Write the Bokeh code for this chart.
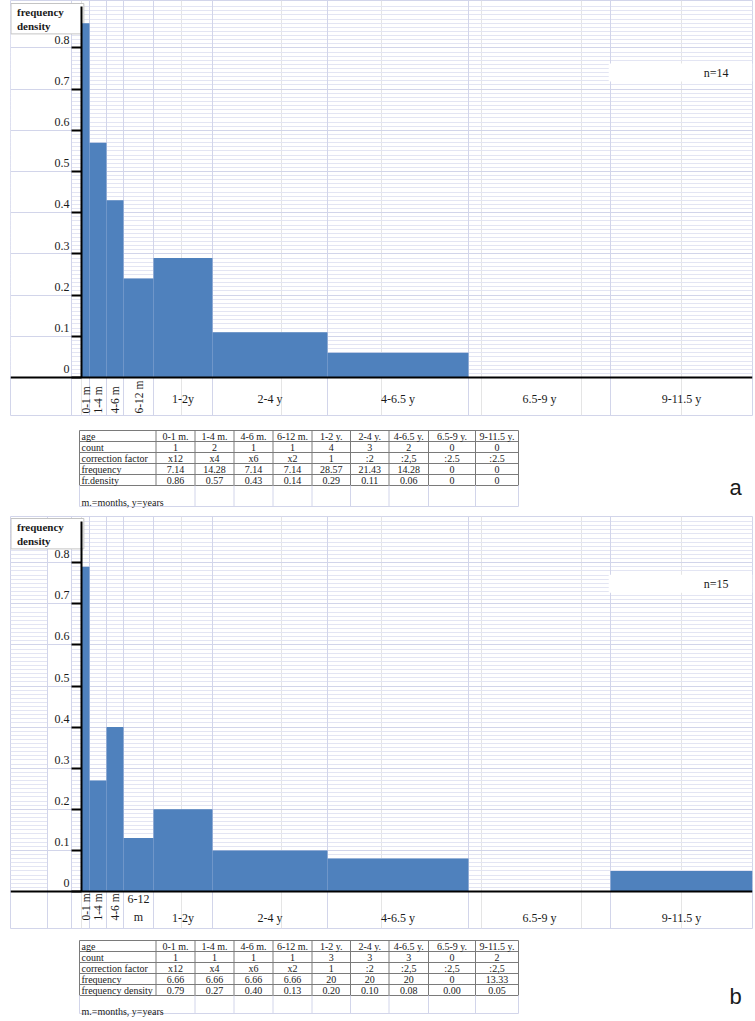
import numpy as np
from bokeh.plotting import figure
from bokeh.models import Range1d, FixedTicker, Grid, Span, Label, BoxAnnotation
from bokeh.layouts import column
from bokeh.embed import file_html
from bokeh.resources import INLINE
from bokeh.core.properties import value

# ---------------- data ----------------
age_groups = ["0-1 m.", "1-4 m.", "4-6 m.", "6-12 m.", "1-2 y.", "2-4 y.",
              "4-6.5 y.", "6.5-9 y.", "9-11.5 y."]
axis_labels_a = ["0-1 m", "1-4 m", "4-6 m", "6-12 m", "1-2y", "2-4 y",
                 "4-6.5 y", "6.5-9 y", "9-11.5 y"]
axis_labels_b = ["0-1 m", "1-4 m", "4-6 m", "6-12\nm", "1-2y", "2-4 y",
                 "4-6.5 y", "6.5-9 y", "9-11.5 y"]
density_a = [0.86, 0.57, 0.43, 0.24, 0.29, 0.11, 0.06, 0.0, 0.0]
density_b = [0.79, 0.27, 0.40, 0.13, 0.20, 0.10, 0.08, 0.0, 0.05]
y_ticks = [0, 0.1, 0.2, 0.3, 0.4, 0.5, 0.6, 0.7, 0.8]
y_tick_labels = ["0", "0.1", "0.2", "0.3", "0.4", "0.5", "0.6", "0.7", "0.8"]
n_text_a = "n=14"
n_text_b = "n=15"
y_title = "frequency\ndensity"

row_labels_a = ["age", "count", "correction factor", "frequency", "fr.density"]
count_a = ["1", "2", "1", "1", "4", "3", "2", "0", "0"]
correction_a = ["x12", "x4", "x6", "x2", "1", ":2", ":2,5", ":2.5", ":2.5"]
frequency_a = ["7.14", "14.28", "7.14", "7.14", "28.57", "21.43", "14.28", "0", "0"]
frdensity_a = ["0.86", "0.57", "0.43", "0.14", "0.29", "0.11", "0.06", "0", "0"]

row_labels_b = ["age", "count", "correction factor", "frequency", "frequency density"]
count_b = ["1", "1", "1", "1", "3", "3", "3", "0", "2"]
correction_b = ["x12", "x4", "x6", "x2", "1", ":2", ":2,5", ":2,5", ":2,5"]
frequency_b = ["6.66", "6.66", "6.66", "6.66", "20", "20", "20", "0", "13.33"]
frdensity_b = ["0.79", "0.27", "0.40", "0.13", "0.20", "0.10", "0.08", "0.00", "0.05"]

footnote = "m.=months, y=years"

# ---------------- layout constants ----------------
bin_widths = [8, 17, 17, 30, 59, 115, 141, 142, 142]     # spreadsheet column widths (px)
edges = np.concatenate([[0], np.cumsum(bin_widths)]).astype(float)
centers = (edges[:-1] + edges[1:]) / 2
table_cols = [79, 155.5, 194.5, 233.5, 272.5, 311.5, 350, 388.5, 428, 475, 518]

W = 755
FRAME_L = 10          # page x of the frame's left edge
FRAME_R = 752         # page x of the frame's right edge
AXIS_X = 81           # page x of the y axis

BAR = "#4f81bd"
GRID_MAJOR = "#d2d5ea"
GRID_MINOR = "#e3e5f3"
SERIF = "Liberation Serif"
TXT = "#1a1a1a"


def make_chart(vals, labels, n_rot, n_text, border_top, H, zero_from_top, ppu,
               rot_below, h_below, h_baseline, ny, fd_box_top_from_zero, sheet_cols):
    y1 = zero_from_top / ppu
    y0 = -(H - zero_from_top) / ppu
    p = figure(width=W, height=border_top + H + 5,
               x_range=Range1d(FRAME_L - AXIS_X, FRAME_R - AXIS_X), y_range=Range1d(y0, y1),
               x_axis_location=None, output_backend="svg", toolbar_location=None,
               min_border_left=FRAME_L, min_border_right=W - FRAME_R,
               min_border_top=border_top, min_border_bottom=5)
    p.outline_line_color = GRID_MAJOR
    p.background_fill_color = "white"
    p.border_fill_color = "white"

    minor = [round(v, 3) for v in np.arange(0, 0.9001, 0.01)]
    ticker = FixedTicker(ticks=y_ticks, minor_ticks=minor)
    ax = p.yaxis[0]
    ax.ticker = ticker
    ax.fixed_location = 0
    ax.bounds = (0, 0.9)
    ax.axis_line_color = "black"
    ax.axis_line_width = 2
    ax.major_tick_in = 0
    ax.major_tick_out = 10
    ax.major_tick_line_color = "black"
    ax.major_tick_line_width = 2
    ax.minor_tick_line_color = None
    ax.major_label_standoff = 2
    ax.major_label_text_font = SERIF
    ax.major_label_text_font_size = "12px"
    ax.major_label_text_color = TXT
    ax.major_label_overrides = {t: lab + "\n" for t, lab in zip(y_ticks, y_tick_labels)}

    g = p.ygrid[0]
    g.ticker = ticker
    g.bounds = (0, 0.9)
    g.grid_line_color = GRID_MAJOR
    g.minor_grid_line_color = GRID_MINOR

    # blank spreadsheet cells left of the axis, then the 0.1 lines again on top
    p.add_layout(BoxAnnotation(left=sheet_cols[0] - AXIS_X, right=71 - AXIS_X,
                               bottom=0, top=0.9, fill_color="white", fill_alpha=1,
                               line_color=None, level="underlay"))
    p.add_layout(Grid(dimension=1, ticker=FixedTicker(ticks=y_ticks), bounds=(0, 0.9),
                      grid_line_color=GRID_MAJOR))
    p.add_layout(Grid(dimension=0,
                      ticker=FixedTicker(ticks=[c - AXIS_X for c in sheet_cols[1:]] + list(edges[1:-1])),
                      grid_line_color=GRID_MAJOR))

    # y title box (anchor is the box's top-left corner); drawn under bars and axis
    p.add_layout(Label(x=10.5 - AXIS_X, y=fd_box_top_from_zero / ppu, text=y_title,
                       text_align="left", text_baseline="top", level="underlay",
                       text_font=SERIF, text_font_size="11px", text_font_style="bold",
                       text_color=TXT, border_line_color="#c4c4c4",
                       background_fill_color="white",
                       padding=dict(left=6, right=20, top=2, bottom=2)))

    p.quad(left=edges[:-1], right=edges[1:], bottom=0, top=vals,
           fill_color=BAR, line_color=None)

    p.add_layout(Span(location=0, dimension="width", line_color="black", line_width=2))

    # category labels in the row below the axis
    p.text(x=centers[:n_rot], y=[-rot_below / ppu] * n_rot, text=labels[:n_rot],
           angle=np.pi / 2, text_align="left", text_baseline="middle",
           text_font=value(SERIF), text_font_size="11.5px", text_color=TXT)
    rest = len(labels) - n_rot
    p.text(x=centers[n_rot:], y=[-h_below / ppu] * rest, text=labels[n_rot:],
           text_align="center", text_baseline=h_baseline, text_line_height=1.3,
           text_font=value(SERIF), text_font_size="12px", text_color=TXT)

    # n= box (anchor is the box's right edge)
    p.add_layout(Label(x=edges[-1], y=ny, text=n_text,
                       text_align="right", text_baseline="middle", level="underlay",
                       text_font=SERIF, text_font_size="12px", text_color=TXT,
                       background_fill_color="white",
                       padding=dict(left=95, right=24, top=2, bottom=2)))
    return p


def make_table(row_labels, rows, fig_h, top, foot_h, foot_text_y, letter, letter_y):
    t = figure(width=W, height=fig_h, x_range=Range1d(FRAME_L, FRAME_R),
               y_range=Range1d(fig_h, 0),
               x_axis_location=None, y_axis_location=None, output_backend="svg",
               toolbar_location=None, min_border=0, min_border_left=FRAME_L,
               min_border_right=W - FRAME_R, min_border_top=0, min_border_bottom=0)
    t.outline_line_color = None
    t.background_fill_color = "white"
    t.border_fill_color = "white"
    t.xgrid.visible = False
    t.ygrid.visible = False
    rh = 11
    nrow = len(rows)
    bottom = top + rh * nrow
    hy = [top + rh * k for k in range(nrow + 1)]
    t.segment(x0=[table_cols[0]] * len(hy), x1=[table_cols[-1]] * len(hy), y0=hy, y1=hy,
              line_color="#7a7a7a", line_width=1)
    t.segment(x0=table_cols, x1=table_cols, y0=[top] * len(table_cols),
              y1=[bottom] * len(table_cols), line_color="#7a7a7a", line_width=1)
    fb = bottom + foot_h
    fxs = [table_cols[0]] + table_cols[2:]
    t.segment(x0=fxs, x1=fxs, y0=[bottom] * len(fxs), y1=[fb] * len(fxs),
              line_color=GRID_MAJOR, line_width=1)
    t.segment(x0=[table_cols[0]], x1=[table_cols[-1]], y0=[fb], y1=[fb],
              line_color=GRID_MAJOR, line_width=1)
    ccx = [(a + b) / 2 for a, b in zip(table_cols[1:-1], table_cols[2:])]
    xs, ys, txt = [], [], []
    for k, row in enumerate(rows):
        for j, v in enumerate(row):
            xs.append(ccx[j]); ys.append(top + rh * k + rh / 2 + 0.5); txt.append(v)
    t.text(x=xs, y=ys, text=txt, text_align="center", text_baseline="middle",
           text_font=value(SERIF), text_font_size="10px", text_color=TXT)
    t.text(x=[table_cols[0] + 2] * nrow, y=[top + rh * k + rh / 2 + 0.5 for k in range(nrow)],
           text=row_labels, text_align="left", text_baseline="middle",
           text_font=value(SERIF), text_font_size="10px", text_color=TXT)
    t.text(x=[table_cols[0] + 2], y=[foot_text_y], text=[footnote], text_align="left",
           text_baseline="middle", text_font=value(SERIF), text_font_size="10px",
           text_color=TXT)
    t.text(x=[735], y=[letter_y], text=[letter], text_align="center",
           text_baseline="middle", text_font=value("Liberation Sans"),
           text_font_size="22px", text_color=TXT)
    return t


# panel a: frame page y 0..415, zero at 377
chart_a = make_chart(density_a, axis_labels_a, 4, n_text_a, 0, 415, 377, 412,
                     36, 21, "middle", 0.74, 377 - 3, [10, 71])
table_a = make_table(row_labels_a, [age_groups, count_a, correction_a, frequency_a, frdensity_a],
                     92, 10, 21, 82, "a", 67)
# panel b: frame page y 516..928, zero at 891
chart_b = make_chart(density_b, axis_labels_b, 3, n_text_b, 4, 412, 375, 411,
                     29, 33, "bottom", 0.749, 891 - 518, [47, 47, 71])
table_b = make_table(row_labels_b, [age_groups, count_b, correction_b, frequency_b, frdensity_b],
                     88, 7, 18, 78, "b", 63)

layout = column(chart_a, table_a, chart_b, table_b, spacing=0)
open("out.html", "w").write(file_html(layout, INLINE))
